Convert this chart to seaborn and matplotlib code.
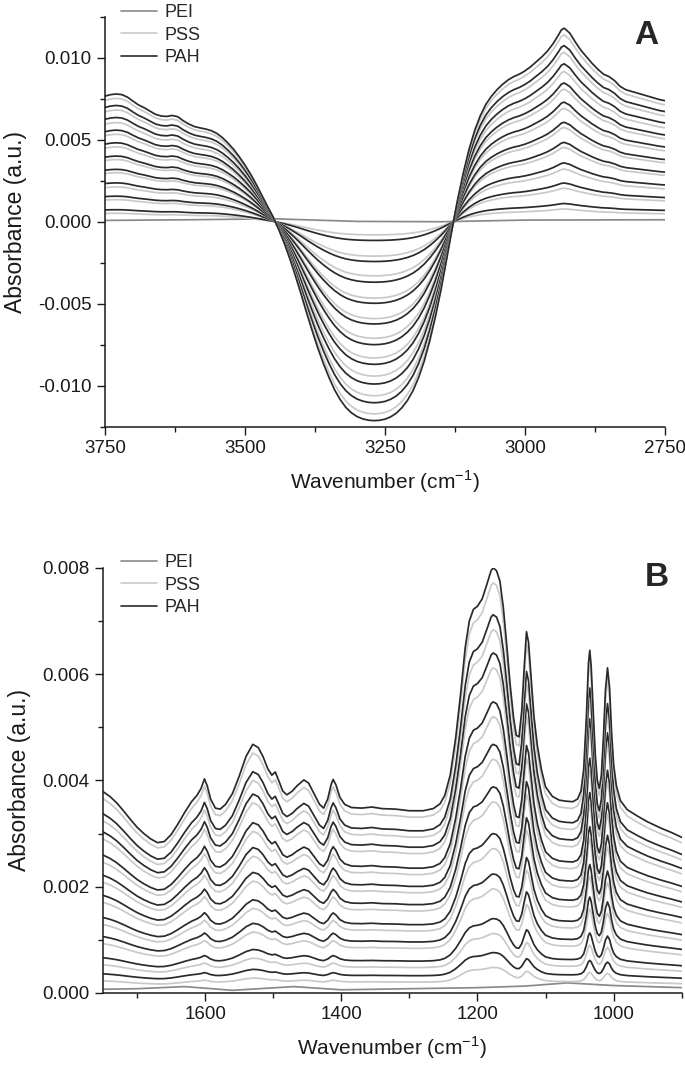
import numpy as np
import pandas as pd
import matplotlib
matplotlib.use("Agg")
import matplotlib.pyplot as plt
from matplotlib.lines import Line2D
from matplotlib.ticker import MultipleLocator
import seaborn as sns

# ---- panel A : 3750-2750 cm-1 (top PAH spectrum) ----
wn_a = [3750, 3740, 3730, 3720, 3710, 3700, 3690, 3680, 3670, 3660, 3650, 3640,
        3630, 3620, 3610, 3600, 3590, 3580, 3570, 3560, 3550, 3540, 3530, 3520,
        3510, 3500, 3490, 3480, 3470, 3460, 3450, 3440, 3430, 3420, 3410, 3400,
        3390, 3380, 3370, 3360, 3350, 3340, 3330, 3320, 3310, 3300, 3290, 3280,
        3270, 3260, 3250, 3240, 3230, 3220, 3210, 3200, 3190, 3180, 3170, 3160,
        3150, 3140, 3130, 3120, 3110, 3100, 3090, 3080, 3070, 3060, 3050, 3040,
        3030, 3020, 3010, 3000, 2990, 2980, 2970, 2960, 2950, 2940, 2935, 2930,
        2920, 2910, 2900, 2890, 2880, 2870, 2860, 2850, 2840, 2830, 2820, 2800,
        2780, 2760, 2750]
top_a = [0.00766, 0.00775, 0.00779, 0.00775, 0.00760, 0.00735, 0.00712, 0.00695,
         0.00675, 0.00655, 0.00645, 0.00642, 0.00648, 0.00640, 0.00615, 0.00595,
         0.00580, 0.00572, 0.00565, 0.00555, 0.00538, 0.00512, 0.00478, 0.00440,
         0.00395, 0.00345, 0.00290, 0.00228, 0.00162, 0.00095, 0.00030, -0.00045,
         -0.00130, -0.00225, -0.00330, -0.00440, -0.00555, -0.00665, -0.00770,
         -0.00865, -0.00950, -0.01025, -0.01085, -0.01132, -0.01165, -0.01188,
         -0.01202, -0.01210, -0.01213, -0.01211, -0.01204, -0.01190, -0.01168,
         -0.01135, -0.01090, -0.01030, -0.00950, -0.00850, -0.00725, -0.00580,
         -0.00415, -0.00230, -0.00040, 0.00140, 0.00300, 0.00440, 0.00555,
         0.00645, 0.00715, 0.00765, 0.00805, 0.00838, 0.00865, 0.00885, 0.00900,
         0.00920, 0.00945, 0.00975, 0.01005, 0.01040, 0.01085, 0.01140, 0.01170,
         0.01180, 0.01150, 0.01095, 0.01045, 0.01005, 0.00965, 0.00930, 0.00900,
         0.00885, 0.00860, 0.00825, 0.00805, 0.00785, 0.00765, 0.00745, 0.00738]
pei_wn_a = [3750, 3600, 3450, 3300, 3150, 3000, 2750]
pei_a = [0.00008, 0.00012, 0.00018, 0.00002, 0.00000, 0.00010, 0.00012]
# relative size of each layer (depth of the 3250 band / top layer)
pah_frac_a = [0.094, 0.200, 0.304, 0.410, 0.514, 0.618, 0.717, 0.816, 0.910, 1.000]
pss_frac_a = [0.066, 0.173, 0.272, 0.384, 0.487, 0.586, 0.685, 0.776, 0.875, 0.966]

# ---- panel B : 1750-900 cm-1 ----
wn_b = [1750, 1740, 1730, 1720, 1710, 1700, 1690, 1680, 1670, 1660, 1650, 1640,
        1630, 1620, 1612, 1606, 1601, 1597, 1592, 1585, 1578, 1570, 1560, 1550,
        1540, 1530, 1522, 1515, 1508, 1502, 1497, 1492, 1486, 1480, 1472, 1465,
        1455, 1448, 1440, 1432, 1426, 1420, 1415, 1412, 1408, 1402, 1395, 1385,
        1370, 1355, 1340, 1320, 1300, 1280, 1265, 1255, 1248, 1240, 1232, 1225,
        1218, 1212, 1206, 1200, 1193, 1186, 1180, 1177, 1172, 1167, 1162, 1157,
        1152, 1147, 1143, 1139, 1135, 1131, 1128, 1125, 1121, 1117, 1112, 1106,
        1100, 1090, 1080, 1070, 1060, 1053, 1048, 1044, 1040, 1037, 1035, 1033,
        1030, 1027, 1024, 1021, 1018, 1015, 1012, 1009, 1006, 1003, 1000, 996,
        990, 980, 965, 950, 930, 915, 900]
top_b = [0.00379, 0.00370, 0.00358, 0.00343, 0.00327, 0.00312, 0.00300, 0.00290,
         0.00283, 0.00285, 0.00298, 0.00318, 0.00340, 0.00360, 0.00372, 0.00385,
         0.00403, 0.00390, 0.00365, 0.00348, 0.00346, 0.00355, 0.00375, 0.00408,
         0.00445, 0.00468, 0.00462, 0.00445, 0.00422, 0.00410, 0.00416, 0.00400,
         0.00380, 0.00373, 0.00380, 0.00390, 0.00401, 0.00395, 0.00375, 0.00355,
         0.00348, 0.00365, 0.00392, 0.00402, 0.00392, 0.00368, 0.00355, 0.00349,
         0.00348, 0.00350, 0.00347, 0.00346, 0.00343, 0.00343, 0.00347, 0.00356,
         0.00372, 0.00410, 0.00480, 0.00560, 0.00650, 0.00700, 0.00722, 0.00728,
         0.00742, 0.00770, 0.00795, 0.00800, 0.00795, 0.00775, 0.00725, 0.00655,
         0.00580, 0.00518, 0.00485, 0.00482, 0.00530, 0.00620, 0.00680, 0.00660,
         0.00590, 0.00520, 0.00465, 0.00420, 0.00388, 0.00370, 0.00363, 0.00361,
         0.00360, 0.00365, 0.00380, 0.00420, 0.00520, 0.00620, 0.00645, 0.00615,
         0.00530, 0.00450, 0.00400, 0.00385, 0.00410, 0.00480, 0.00570, 0.00612,
         0.00575, 0.00490, 0.00430, 0.00390, 0.00362, 0.00345, 0.00333, 0.00322,
         0.00310, 0.00302, 0.00293]
pei_wn_b = [1750, 1700, 1630, 1560, 1470, 1400, 1300, 1200, 1130, 1068, 1000, 900]
pei_b = [0.00007, 0.00008, 0.00012, 0.00005, 0.00012, 0.00006, 0.00008, 0.00010,
         0.00013, 0.00019, 0.00014, 0.00010]
pah_frac_b = [0.095, 0.175, 0.280, 0.375, 0.485, 0.585, 0.685, 0.800, 0.890, 1.000]
pss_frac_b = [0.060, 0.140, 0.245, 0.340, 0.450, 0.550, 0.650, 0.765, 0.855, 0.965]

c_pei, c_pss, c_pah = "#8a8a8a", "#c9c9c9", "#2a2a2a"


def build(wn, top, pei_wn, pei, pah_frac, pss_frac):
    rows = [pd.DataFrame({"wn": pei_wn, "abs": pei, "layer": "PEI"})]
    order = ["PEI"]
    pal = {"PEI": c_pei}
    for i, (fs, fa) in enumerate(zip(pss_frac, pah_frac), start=1):
        rows.append(pd.DataFrame({"wn": wn, "abs": np.array(top) * fs, "layer": f"PSS{i}"}))
        rows.append(pd.DataFrame({"wn": wn, "abs": np.array(top) * fa, "layer": f"PAH{i}"}))
        order += [f"PSS{i}", f"PAH{i}"]
        pal[f"PSS{i}"] = c_pss
        pal[f"PAH{i}"] = c_pah
    return pd.concat(rows, ignore_index=True), order, pal


sns.set_style("ticks")
plt.rcParams["font.family"] = ["Liberation Sans", "DejaVu Sans"]
plt.rcParams["mathtext.fontset"] = "custom"
plt.rcParams["mathtext.rm"] = "Liberation Sans"

fig = plt.figure(figsize=(6.85, 10.66), dpi=100)
ax_a = fig.add_axes([0.1533, 0.5997, 0.8175, 0.3846])
ax_b = fig.add_axes([0.1504, 0.0685, 0.8448, 0.3987])

panels = [
    (ax_a, build(wn_a, top_a, pei_wn_a, pei_a, pah_frac_a, pss_frac_a),
     (3750, 2750), (-0.0125, 0.0125), 250, 125, 0.005, 0.0025, "A", 0.9435, 0.967, 0.996),
    (ax_b, build(wn_b, top_b, pei_wn_b, pei_b, pah_frac_b, pss_frac_b),
     (1750, 900), (0, 0.008), 200, 100, 0.002, 0.001, "B", 0.9585, 0.4578, 0.480),
]

for ax, (df, order, pal), xl, yl, xmaj, xmin, ymaj, ymin, tag, tx, ty, legy in panels:
    sns.lineplot(data=df, x="wn", y="abs", hue="layer", hue_order=order,
                 palette=pal, legend=False, linewidth=1.25, ax=ax)
    ax.set_xlim(*xl)
    ax.set_ylim(*yl)
    ax.xaxis.set_major_locator(MultipleLocator(xmaj))
    ax.xaxis.set_minor_locator(MultipleLocator(xmin))
    ax.yaxis.set_major_locator(MultipleLocator(ymaj))
    ax.yaxis.set_minor_locator(MultipleLocator(ymin))
    ax.yaxis.set_major_formatter(matplotlib.ticker.FormatStrFormatter("%.3f"))
    ax.tick_params(which="major", direction="out", length=6, width=1.0,
                   labelsize=13.5, colors="#1a1a1a")
    ax.tick_params(which="minor", direction="out", length=3.5, width=1.0, colors="#1a1a1a")
    for s in ["top", "right"]:
        ax.spines[s].set_visible(False)
    for s in ["left", "bottom"]:
        ax.spines[s].set_linewidth(1.1)
        ax.spines[s].set_color("#1a1a1a")
    ax.set_xlabel(r"Wavenumber (cm$^{-1}$)", fontsize=15, labelpad=8, color="#1a1a1a")
    ax.set_ylabel("Absorbance (a.u.)", fontsize=16.5, labelpad=8, color="#1a1a1a")
    fig.text(tx, ty, tag, fontsize=24, fontweight="bold", ha="center", va="center")
    handles = [Line2D([], [], color=c_pei, lw=1.2),
               Line2D([], [], color=c_pss, lw=1.2),
               Line2D([], [], color=c_pah, lw=1.2)]
    fig.legend(handles, ["PEI", "PSS", "PAH"], loc="upper left",
               bbox_to_anchor=(0.176, legy), frameon=False, fontsize=13,
               handlelength=2.0, handletextpad=0.45, labelspacing=0.3,
               borderpad=0, borderaxespad=0)

fig.savefig("out.png", dpi=100)
